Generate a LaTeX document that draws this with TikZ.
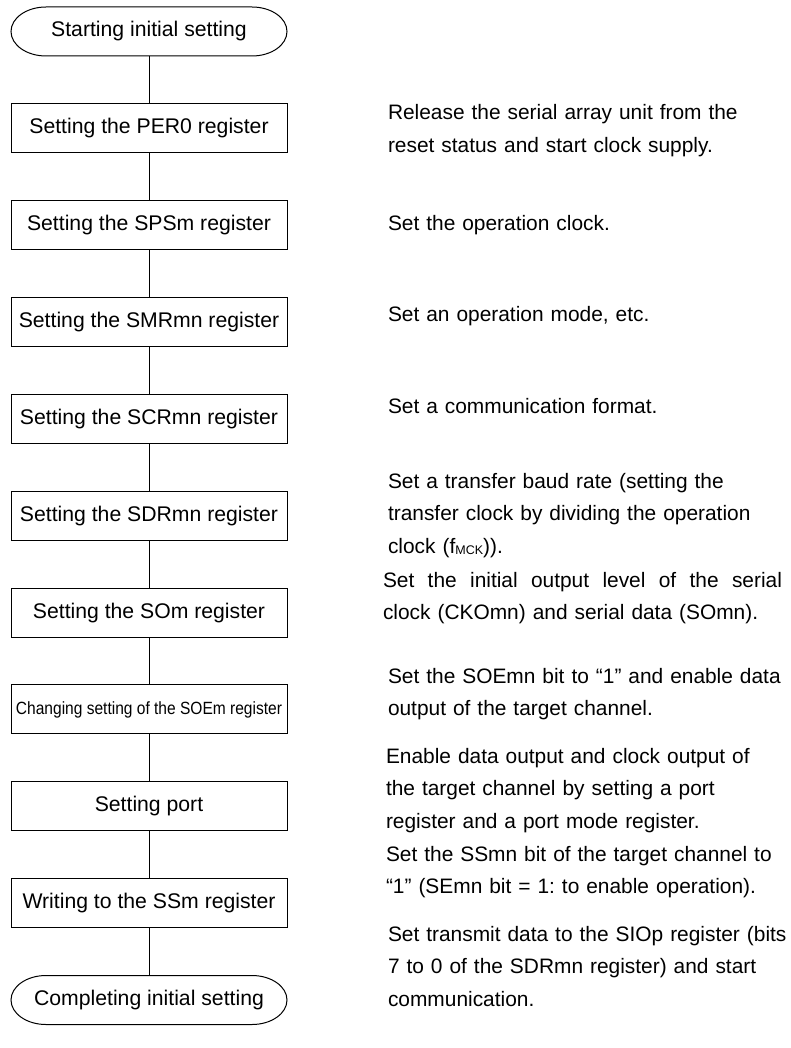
\documentclass[tikz,border=0pt]{standalone}
\usepackage{fontspec}
\setmainfont{Liberation Sans}
\frenchspacing
\begin{document}
\begin{tikzpicture}[x=1pt,y=1pt,
  every node/.style={inner sep=0pt, outer sep=0pt},
  stepbox/.style={draw, line width=1pt, minimum width=276pt, minimum height=49pt,
    font=\fontsize{21.2}{25}\selectfont},
  termbox/.style={minimum width=276pt, minimum height=49pt,
    font=\fontsize{21.2}{25}\selectfont},
  note/.style={anchor=base west, text width=420pt, align=left,
    font=\fontsize{20.9}{32.5}\selectfont},
  link/.style={line width=1pt}
]
\useasboundingbox (0,0) rectangle (790,-1048);

% flow nodes
\node[termbox] (start) at (149,-31.5) {Starting initial setting};
\node[stepbox] (b1) at (149,-128.35) {Setting the PER0 register};
\node[stepbox] (b2) at (149,-225.2) {Setting the SPSm register};
\node[stepbox] (b3) at (149,-322.05) {Setting the SMRmn register};
\node[stepbox] (b4) at (149,-418.9) {Setting the SCRmn register};
\node[stepbox] (b5) at (149,-515.75) {Setting the SDRmn register};
\node[stepbox] (b6) at (149,-612.6) {Setting the SOm register};
\node[stepbox] (b7) at (149,-709.45) {\scalebox{0.878}[1]{\fontsize{17.7}{20}\selectfont Changing setting of the SOEm register}};
\node[stepbox] (b8) at (149,-806.3) {Setting port};
\node[stepbox] (b9) at (149,-903.15) {Writing to the SSm register};
\node[termbox] (stop) at (149,-1000) {Completing initial setting};

% terminal outlines
\foreach \t in {start,stop}{
  \draw[line width=1pt] (\t.west)
    arc[start angle=180, end angle=90, x radius=35pt, y radius=24.5pt]
    -- ++(206,0)
    arc[start angle=90, end angle=-90, x radius=35pt, y radius=24.5pt]
    -- ++(-206,0)
    arc[start angle=270, end angle=180, x radius=35pt, y radius=24.5pt]
    -- cycle;
}

% connectors
\draw[link] (start.south) -- (b1.north);
\draw[link] (b1.south) -- (b2.north);
\draw[link] (b2.south) -- (b3.north);
\draw[link] (b3.south) -- (b4.north);
\draw[link] (b4.south) -- (b5.north);
\draw[link] (b5.south) -- (b6.north);
\draw[link] (b6.south) -- (b7.north);
\draw[link] (b7.south) -- (b8.north);
\draw[link] (b8.south) -- (b9.north);
\draw[link] (b9.south) -- (stop.north);

% notes
\node[note] (n1) at (388,-120) {Release the serial array unit from the\\reset status and start clock supply.};
\node[note] (n2) at (388,-231) {Set the operation clock.};
\node[note] (n3) at (388,-321) {Set an operation mode, etc.};
\node[note] (n4) at (388,-413) {Set a communication format.};
\node[note] (n5) at (388,-488) {Set a transfer baud rate (setting the\\transfer clock by dividing the operation\\clock (f{\fontsize{12.5}{13}\selectfont\raisebox{-1pt}{MCK}})).};
\node[note] (n6) at (383,-587) {\hbox to 399pt{Set\hfill the\hfill initial\hfill output\hfill level\hfill of\hfill the\hfill serial}\\clock (CKOmn) and serial data (SOmn).};
\node[note] (n7) at (388,-683) {Set the SOEmn bit to “1” and enable data\\output of the target channel.};
\node[note] (n8) at (386,-763) {Enable data output and clock output of\\the target channel by setting a port\\register and a port mode register.};
\node[note] (n9) at (386,-861) {Set the SSmn bit of the target channel to\\“1” (SEmn bit = 1: to enable operation).};
\node[note] (n10) at (388,-941) {Set transmit data to the SIOp register (bits\\7 to 0 of the SDRmn register) and start\\communication.};
\end{tikzpicture}
\end{document}
